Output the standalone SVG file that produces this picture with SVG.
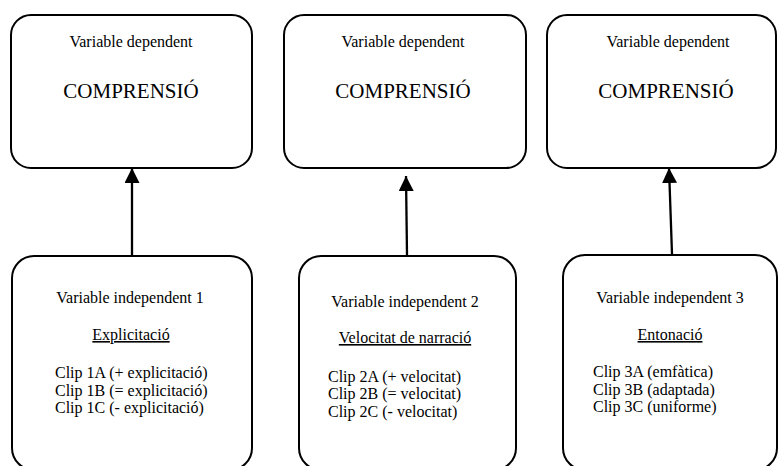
<svg xmlns="http://www.w3.org/2000/svg" width="778" height="466" viewBox="0 0 778 466">
<style>
.box{fill:#fff;stroke:#000;stroke-width:2}
text{font-family:"Liberation Serif","Times New Roman",serif;fill:#000}
.s{font-size:16px}
.b{font-size:21px}
.c{text-anchor:middle}
.u{text-decoration:underline}
.con{stroke:#000;stroke-width:2.3;fill:none}
</style>
<defs>
<marker id="ah" markerWidth="16" markerHeight="16" refX="15" refY="7.5" orient="auto" markerUnits="userSpaceOnUse">
<path d="M0,0 L15,7.5 L0,15 Z" fill="#000"/>
</marker>
</defs>
<g id="dep1">
<rect class="box" x="11" y="15" width="241" height="153" rx="20"/>
<text class="s c" x="131" y="47">Variable dependent</text>
<text class="b c" x="131" y="98">COMPRENSIÓ</text>
</g>
<g id="dep2">
<rect class="box" x="284" y="15" width="242" height="153" rx="20"/>
<text class="s c" x="403" y="47">Variable dependent</text>
<text class="b c" x="403" y="98">COMPRENSIÓ</text>
</g>
<g id="dep3">
<rect class="box" x="547" y="15" width="229" height="153" rx="20"/>
<text class="s c" x="668" y="47">Variable dependent</text>
<text class="b c" x="666" y="98">COMPRENSIÓ</text>
</g>
<g id="ind1">
<rect class="box" x="12" y="256" width="240" height="214" rx="22"/>
<text class="s c" x="130" y="303">Variable independent 1</text>
<text class="s c u" x="131" y="340">Explicitació</text>
<text class="s" x="55" y="378">Clip 1A (+ explicitació)</text>
<text class="s" x="55" y="396">Clip 1B (= explicitació)</text>
<text class="s" x="55" y="413">Clip 1C (- explicitació)</text>
</g>
<g id="ind2">
<rect class="box" x="299" y="256" width="217" height="214" rx="22"/>
<text class="s c" x="405" y="307">Variable independent 2</text>
<text class="s c u" x="405" y="343">Velocitat de narració</text>
<text class="s" x="328" y="382">Clip 2A (+ velocitat)</text>
<text class="s" x="328" y="399">Clip 2B (= velocitat)</text>
<text class="s" x="328" y="417">Clip 2C (- velocitat)</text>
</g>
<g id="ind3">
<rect class="box" x="563" y="255" width="214" height="215" rx="22"/>
<text class="s c" x="670" y="303">Variable independent 3</text>
<text class="s c u" x="670" y="340">Entonació</text>
<text class="s" x="593" y="377">Clip 3A (emfàtica)</text>
<text class="s" x="593" y="395">Clip 3B (adaptada)</text>
<text class="s" x="593" y="412">Clip 3C (uniforme)</text>
</g>
<g id="connectors">
<line class="con" x1="132" y1="255" x2="132" y2="168" marker-end="url(#ah)"/>
<line class="con" x1="407" y1="255" x2="406" y2="176" marker-end="url(#ah)"/>
<line class="con" x1="672" y1="254" x2="669" y2="168" marker-end="url(#ah)"/>
</g>
</svg>
